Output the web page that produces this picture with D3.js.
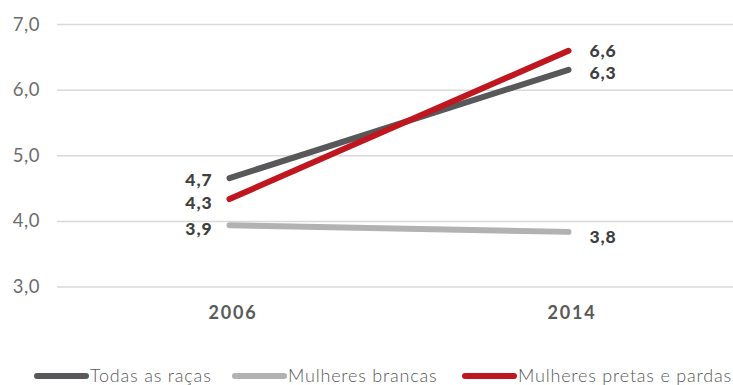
<!DOCTYPE html>
<html><head><meta charset="utf-8">
<script src="https://cdn.jsdelivr.net/npm/d3@7"></script>
<style>
body{margin:0;background:#fff;}
svg{display:block;}
text{font-family:Lato,"Open Sans",sans-serif;}
</style></head>
<body>
<svg id="chart" width="733" height="385"></svg>
<script>
const years = ["2006", "2014"];
const seriesNames = ["Todas as raças", "Mulheres brancas", "Mulheres pretas e pardas"];
const todas = [4.66, 6.31];
const brancas = [3.94, 3.84];
const pretas = [4.34, 6.60];
const yTicks = [3, 4, 5, 6, 7];
const colors = ["#58585a", "#b2b2b2", "#c0161f"];

const seriesData = [todas, brancas, pretas];
const fmt = v => d3.format(".1f")(v).replace(".", ",");

const svg = d3.select("#chart");
const x = d3.scalePoint().domain(years).range([60, 738]).padding(0.5);
const y = d3.scaleLinear().domain([3, 7]).range([287, 24.5]);

// gridlines
svg.append("g").selectAll("line").data(yTicks).join("line")
  .attr("x1", 57).attr("x2", 733)
  .attr("y1", d => y(d)).attr("y2", d => y(d))
  .attr("stroke", "#d9d9d9").attr("stroke-width", 1.5);

// y axis labels
const yAxis = d3.axisLeft(y).tickValues(yTicks).tickFormat(fmt).tickSize(0).tickPadding(0);
const ya = svg.append("g").attr("transform", "translate(40,0)").call(yAxis);
ya.select(".domain").remove();
ya.selectAll("text").attr("font-size", 18.5).attr("fill", "#6d6d6d").attr("font-weight", 400)
  .attr("font-family", "Lato, sans-serif").attr("dy", "0.3em").attr("letter-spacing", "0.5px");

// x axis labels
const xAxis = d3.axisBottom(x).tickSize(0).tickPadding(0);
const xa = svg.append("g").attr("transform", "translate(3,306)").call(xAxis);
xa.select(".domain").remove();
xa.selectAll("text").attr("font-size", 18).attr("fill", "#595959").attr("font-weight", "bold")
  .attr("font-family", "Lato, sans-serif").attr("dy", "0.71em").attr("letter-spacing", "1.8px");

// lines
const line = d3.line().x((d, i) => x(years[i])).y(d => y(d));
svg.append("g").selectAll("path").data(seriesData).join("path")
  .attr("d", d => line(d))
  .attr("fill", "none")
  .attr("stroke", (d, i) => colors[i])
  .attr("stroke-width", 6)
  .attr("stroke-linecap", "round");

// data labels
const labelOffsets = [[2, 3], [4, 5], [4, 0]];
const lab = svg.append("g").attr("font-size", 17.5).attr("font-weight", 900).attr("fill", "#3f3f3f")
  .attr("letter-spacing", "0.9px");
seriesData.forEach((s, si) => {
  lab.append("text").attr("x", x(years[0]) - 17).attr("y", y(s[0]) + labelOffsets[si][0])
    .attr("text-anchor", "end").attr("dy", "0.35em").text(fmt(s[0]));
  lab.append("text").attr("x", x(years[1]) + 21).attr("y", y(s[1]) + labelOffsets[si][1])
    .attr("text-anchor", "start").attr("dy", "0.35em").text(fmt(s[1]));
});

// legend
const legendX = [34, 232, 462];
const lg = svg.append("g").attr("transform", "translate(0,376)");
seriesNames.forEach((n, i) => {
  lg.append("line").attr("x1", legendX[i] + 3).attr("x2", legendX[i] + 52)
    .attr("y1", 0).attr("y2", 0)
    .attr("stroke", colors[i]).attr("stroke-width", 6).attr("stroke-linecap", "round");
  lg.append("text").attr("x", legendX[i] + 56).attr("y", 0).attr("dy", "0.35em")
    .attr("font-size", 18).attr("fill", "#595959").attr("font-weight", 300)
    .attr("letter-spacing", "0.8px").text(n);
});
</script>
</body></html>
